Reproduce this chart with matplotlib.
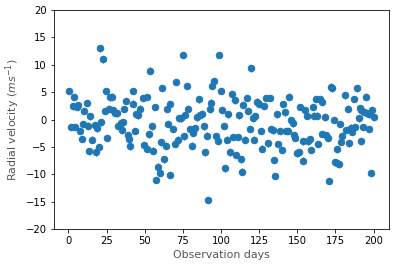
import numpy as np
import matplotlib
matplotlib.use('Agg')
import matplotlib.pyplot as plt

# observation days and radial velocities
days = [0.5, 1.8, 2.7, 3.8, 4.5, 5.3, 6.0, 7.7, 8.6, 9.7, 10.3, 11.9, 12.8, 13.6,
        14.3, 15.6, 17.5, 17.8, 18.9, 19.7, 20.6, 21.5, 22.6, 24.1, 24.5, 25.4,
        26.7, 27.4, 28.7, 29.1, 30.2, 31.9, 32.2, 34.4, 34.8, 35.9, 36.5, 37.8,
        38.9, 39.8, 40.4, 42.0, 42.4, 43.7, 44.4, 45.7, 47.0, 48.8, 49.6, 51.2,
        51.4, 52.9, 53.3, 54.8, 55.5, 56.8, 57.5, 58.8, 60.1, 60.5,
        61.4, 62.7, 63.7, 64.7, 65.2, 66.8, 66.4, 68.6, 69.7, 70.6, 71.9, 72.3,
        73.8, 75.1, 75.6, 76.2, 78.0, 78.4, 79.7, 81.0, 81.9, 83.0, 84.1, 85.6,
        86.5, 87.6, 88.7, 89.5, 90.8, 91.5, 92.6, 93.5, 94.4, 95.2, 96.7, 97.8,
        98.7, 100.0, 100.5, 102.0, 102.9, 103.7, 104.6, 105.9, 107.2, 108.1,
        109.2, 110.1, 111.1, 111.8, 112.9, 113.7, 114.4, 115.7, 117.0, 117.7,
        118.8, 119.4, 120.7, 121.6, 122.5, 123.4, 124.7, 126.0, 126.8, 128.4,
        129.3, 130.8, 132.1, 132.7, 134.3, 134.7, 135.6, 136.5, 137.6,
        138.4, 139.9, 140.6, 141.7, 142.8, 143.9, 144.5, 145.6, 147.1, 147.5,
        148.7, 149.7, 151.0, 152.0, 153.5, 153.7, 155.0, 156.3, 157.2, 158.3,
        158.9, 160.2, 160.9, 162.0, 162.6, 163.5, 164.6, 166.1, 166.4, 168.1,
        169.0, 170.0, 170.7, 172.3, 172.9, 173.8, 174.4, 175.7, 175.9, 177.2,
        177.7, 178.5, 179.5, 181.2, 181.6, 183.1, 183.8, 185.1, 186.0, 187.0,
        188.0, 189.0, 190.1, 190.8, 191.6, 192.0, 192.9, 194.0, 194.9, 195.5,
        196.9, 197.1, 198.4, 198.8, 200.1]

velocity = [5.2, -1.4, 2.4, 4.1, -1.4, 2.3, 2.6, -2.1, -3.6, -0.8, 1.55, 3.0, -1.1, -5.8,
            0.6, -3.7, -1.0, -6.0, -1.6, -5.0, 13.0, -0.5, 11.0, 1.55, 5.2, -3.4,
            2.0, 4.05, 4.2, 1.7, 1.25, 1.1, -1.1, -0.6, -2.0, -0.5, 1.9, 3.4,
            -2.9, -3.5, -4.9, 2.9, 5.2, -2.1, 1.0, 0.75, 2.0, 3.9, -4.7, 4.1,
            -5.4, -2.7, 8.9, -1.25, -5.7, 2.3, -11.05, -8.6, -9.8, -4.2,
            5.75, -7.3, -4.8, 2.0, -0.85, -10.1, 2.8, -1.7, -4.5, 6.85, -3.7, 0.2,
            0.2, 11.8, -3.1, 0.8, 6.1, 2.0, -1.7, -4.8, -2.5, -1.6, 0.4, 3.7,
            0.8, 1.05, -1.25, -6.0, -2.95, -14.7, 1.85, 3.1, 6.2, 7.0, -3.0, -3.9,
            11.8, 5.2, 1.7, -1.2, -8.9, -3.7, 0.95, -6.0, 4.6, -3.2,
            3.5, -6.5, -3.2, 0.75, -7.3, -9.5, 2.7, -3.7, 3.9, 1.55,
            -1.7, 9.35, 0.2, -3.7, 0.6, 3.25, 2.8, -2.1, -5.3, 2.5,
            3.9, -4.35, 3.9, -1.7, -2.0, -7.4, -10.3, 0.95, -4.5,
            -2.1, -5.6, 2.8, 1.3, -2.1, -2.1, 4.2, -0.1, -0.7, -2.8,
            -3.4, -6.2, -6.0, 2.3, -4.0, -7.5, 1.7, 0.7, -4.0, -3.6,
            -5.6, 2.3, 0.7, 3.75, 0.7, -4.5, 3.75, -2.65, 3.25, 0.4,
            -2.9, -3.4, -11.2, 6.0, 5.7, -0.1, -7.8, -5.45, -8.0, -8.2,
            -0.8, -4.05, -3.1, 4.4, -1.9, 2.0, -4.35, -1.5, -2.2, 3.75,
            -1.4, 5.7, 0.2, 2.1, -4.0, 1.7, -1.4, 1.4, 4.2, 1.1,
            -1.7, 0.95, -9.8, 1.7, 0.4]

velocity_err = 0.6

fig = plt.figure(figsize=(5.5, 266 / 72), dpi=72)
ax = fig.add_axes([54 / 396, 1 - 229 / 266, 335 / 396, 219 / 266])

ax.errorbar(days, velocity, yerr=velocity_err, fmt='o', color='#1f77b4',
            markersize=6.5, elinewidth=1)
ax.set_ylim(-20, 20)
ax.set_yticks(np.arange(-20, 21, 5))
ax.set_xticks(np.arange(0, 201, 25))
ax.set_xlabel('Observation days', fontsize=11, color='#555555')
ax.set_ylabel('Radial velocity ($ms^{-1}$)', fontsize=11, color='#555555')

fig.savefig('out.png', dpi=72)
